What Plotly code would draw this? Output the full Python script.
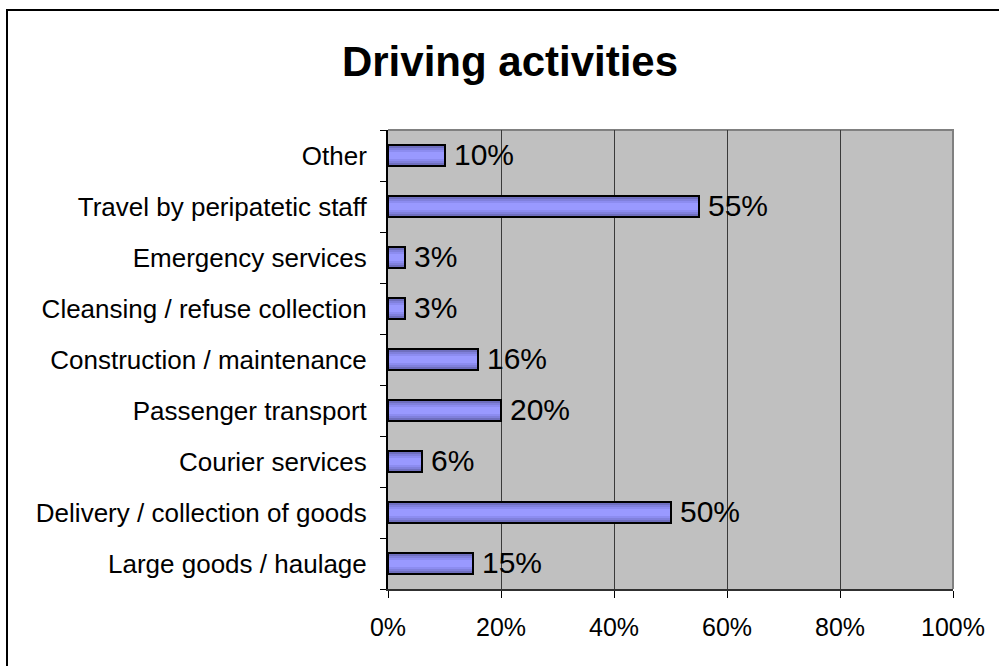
import plotly.graph_objects as go

categories = [
    "Large goods / haulage",
    "Delivery / collection of goods",
    "Courier services",
    "Passenger transport",
    "Construction / maintenance",
    "Cleansing / refuse collection",
    "Emergency services",
    "Travel by peripatetic staff",
    "Other",
]
values = [15, 50, 6, 20, 16, 3, 3, 55, 10]
x_ticks = [0, 20, 40, 60, 80, 100]
x_tick_labels = ["0%", "20%", "40%", "60%", "80%", "100%"]

FONT = "Arial, Liberation Sans, sans-serif"
W, H = 999, 666
L, R, T, B = 388, 953, 130, 589

fig = go.Figure()

# shaded bar body: stacked layers of narrowing width give a horizontal gradient
layers = [
    (0.43, "#5c5c9c"),
    (0.36, "#6f6fbf"),
    (0.29, "#8080dc"),
    (0.21, "#8c8cf0"),
    (0.13, "#9999ff"),
]
for w, c in layers:
    fig.add_trace(go.Bar(
        y=categories, x=values, orientation="h", width=w,
        marker=dict(color=c, line=dict(width=0)),
        hoverinfo="skip", showlegend=False,
    ))

# outline on top
fig.add_trace(go.Bar(
    y=categories, x=values, orientation="h", width=0.43,
    marker=dict(color="rgba(0,0,0,0)", line=dict(color="#000000", width=2)),
    hoverinfo="skip", showlegend=False,
))

# value labels
for cat, v in zip(categories, values):
    fig.add_annotation(
        x=v, y=cat, text=f"{v}%", showarrow=False,
        xanchor="left", yanchor="middle", xshift=7, yshift=1,
        font=dict(family=FONT, size=30, color="#000000"),
    )

px = lambda p: (p - L) / (R - L)
py = lambda p: (B - p) / (B - T)

# outer chart frame
fig.add_shape(
    type="rect", xref="paper", yref="paper",
    x0=px(7), x1=px(1100), y0=py(760), y1=py(10),
    line=dict(color="#000000", width=2), fillcolor="rgba(0,0,0,0)",
    layer="above",
)
# plot area top/right border
fig.add_shape(
    type="path", xref="paper", yref="paper",
    path="M 0 1 L 1 1 L 1 0",
    line=dict(color="#808080", width=2), layer="below",
)

fig.update_layout(
    width=W, height=H,
    margin=dict(l=L, r=W - R, t=T, b=H - B),
    paper_bgcolor="#ffffff",
    plot_bgcolor="#c0c0c0",
    barmode="overlay",
    bargap=0,
    hovermode=False,
    showlegend=False,
    title=dict(
        text="<b>Driving activities</b>",
        x=510 / W, xref="container", xanchor="center",
        y=1 - 61 / H, yref="container", yanchor="middle",
        font=dict(family=FONT, size=42, color="#000000"),
    ),
    xaxis=dict(
        range=[0, 100],
        tickvals=x_ticks, ticktext=x_tick_labels,
        ticks="outside", ticklen=7, tickcolor="#000000", tickwidth=1,
        showgrid=True, gridcolor="#3a3a3a", gridwidth=1,
        showline=True, linecolor="#303030", linewidth=2,
        zeroline=False,
        tickfont=dict(family=FONT, size=25, color="#000000"),
        ticklabelstandoff=8,
        fixedrange=True,
    ),
    yaxis=dict(
        type="category",
        categoryorder="array", categoryarray=categories,
        tickson="boundaries",
        ticks="outside", ticklen=6, tickcolor="#000000", tickwidth=1,
        showgrid=False,
        showline=True, linecolor="#000000", linewidth=2,
        zeroline=False,
        tickfont=dict(family=FONT, size=26, color="#000000"),
        ticklabelstandoff=14,
        fixedrange=True,
    ),
)

fig.write_html("out.html")
